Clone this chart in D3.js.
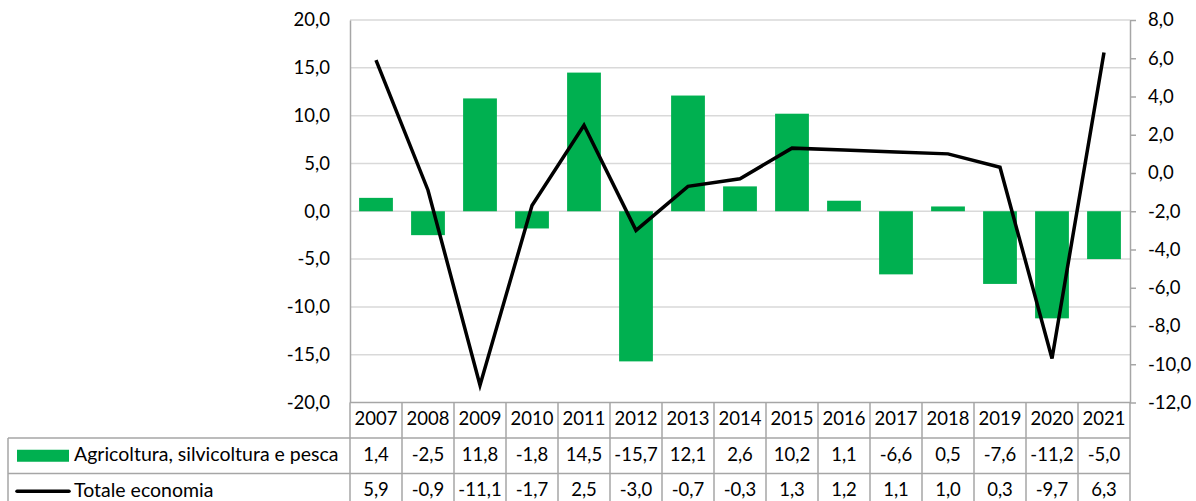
<!DOCTYPE html>
<html>
<head>
<meta charset="utf-8">
<script src="https://cdn.jsdelivr.net/npm/d3@7/dist/d3.min.js"></script>
<style>
  html, body { margin: 0; padding: 0; background: #fff; }
  svg text { font-family: Lato, "Open Sans", sans-serif; fill: #000; }
</style>
</head>
<body>
<svg id="chart" width="1196" height="501"></svg>
<script>
// Annual percentage changes
const years = ["2007","2008","2009","2010","2011","2012","2013","2014","2015","2016","2017","2018","2019","2020","2021"];
const agricoltura = [1.4, -2.5, 11.8, -1.8, 14.5, -15.7, 12.1, 2.6, 10.2, 1.1, -6.6, 0.5, -7.6, -11.2, -5.0];
const totale = [5.9, -0.9, -11.1, -1.7, 2.5, -3.0, -0.7, -0.3, 1.3, 1.2, 1.1, 1.0, 0.3, -9.7, 6.3];
const leftTicks = [-20, -15, -10, -5, 0, 5, 10, 15, 20];
const rightTicks = [-12, -10, -8, -6, -4, -2, 0, 2, 4, 6, 8];
const seriesNames = ["Agricoltura, silvicoltura e pesca", "Totale economia"];

// one decimal, comma separator, plain hyphen for negatives
const fmt = v => d3.format(".1f")(v).replace("\u2212", "-").replace(".", ",");

const svg = d3.select("#chart");
const plot = { left: 350, right: 1130, top: 20, bottom: 402.5 };
const rowH = 35.5;
const tableLeft = 8;
const gridColor = "#d9d9d9";
const borderColor = "#a6a6a6";
const green = "#00B050";
const fontSize = 18.5;
const labelSize = 19.5;
const lineWidth = 3.5;
const textShift = 5;

const x = d3.scaleBand().domain(years).range([plot.left, plot.right]).paddingInner(0.35).paddingOuter(0.175);
const xCell = d3.scaleBand().domain(years).range([plot.left, plot.right]);
const yL = d3.scaleLinear().domain([-20, 20]).range([plot.bottom, plot.top]);
const yR = d3.scaleLinear().domain([-12, 8]).range([plot.bottom, plot.top]);

// gridlines
svg.append("g").selectAll("line").data(leftTicks.filter(t => t > -20)).join("line")
  .attr("x1", plot.left).attr("x2", plot.right)
  .attr("y1", d => yL(d)).attr("y2", d => yL(d))
  .attr("stroke", gridColor).attr("stroke-width", 1.5);

// bars
svg.append("g").selectAll("rect").data(years).join("rect")
  .attr("x", d => x(d))
  .attr("width", x.bandwidth())
  .attr("y", (d, i) => yL(Math.max(0, agricoltura[i])))
  .attr("height", (d, i) => Math.abs(yL(agricoltura[i]) - yL(0)))
  .attr("fill", green);

// line
const line = d3.line()
  .x((d, i) => xCell(years[i]) + xCell.bandwidth() / 2)
  .y(d => yR(d));
svg.append("path").datum(totale)
  .attr("d", line)
  .attr("fill", "none").attr("stroke", "#000").attr("stroke-width", lineWidth)
  .attr("stroke-linejoin", "miter");

// left axis
const axL = svg.append("g").attr("transform", `translate(${plot.left},0)`)
  .call(d3.axisLeft(yL).tickValues(leftTicks).tickSize(0).tickPadding(20).tickFormat(fmt));
axL.select(".domain").attr("stroke", borderColor).attr("stroke-width", 1.5);
axL.selectAll("text").style("font-size", fontSize + "px").style("font-family", "Lato, sans-serif");

// right axis
const axR = svg.append("g").attr("transform", `translate(${plot.right},0)`)
  .call(d3.axisRight(yR).tickValues(rightTicks).tickSize(6).tickSizeOuter(0).tickPadding(12).tickFormat(fmt));
axR.select(".domain").attr("stroke", borderColor).attr("stroke-width", 1.5);
axR.selectAll(".tick line").attr("stroke", borderColor).attr("stroke-width", 1.5);
axR.selectAll("text").style("font-size", fontSize + "px").style("font-family", "Lato, sans-serif");

// data table
const table = svg.append("g");
const rows = [agricoltura, totale];
const tb = plot.bottom;
// horizontal borders
table.append("line").attr("x1", plot.left).attr("x2", plot.right).attr("y1", tb).attr("y2", tb)
  .attr("stroke", borderColor).attr("stroke-width", 1.5);
[1, 2, 3].forEach(k => {
  table.append("line").attr("x1", tableLeft).attr("x2", plot.right)
    .attr("y1", tb + rowH * k).attr("y2", tb + rowH * k)
    .attr("stroke", borderColor).attr("stroke-width", 1.5);
});
// vertical borders
years.concat(["end"]).forEach((yr, i) => {
  const xx = plot.left + xCell.bandwidth() * i;
  table.append("line").attr("x1", xx).attr("x2", xx).attr("y1", tb).attr("y2", tb + rowH * 3)
    .attr("stroke", borderColor).attr("stroke-width", 1.5);
});
table.append("line").attr("x1", tableLeft).attr("x2", tableLeft).attr("y1", tb + rowH).attr("y2", tb + rowH * 3)
  .attr("stroke", borderColor).attr("stroke-width", 1.5);

// header: years
table.selectAll("text.year").data(years).join("text")
  .attr("class", "year")
  .attr("x", d => xCell(d) + xCell.bandwidth() / 2)
  .attr("y", tb + rowH / 2 + textShift)
  .attr("text-anchor", "middle")
  .style("font-size", fontSize + "px")
  .text(d => d);

// values
rows.forEach((vals, r) => {
  table.append("g").selectAll("text").data(vals).join("text")
    .attr("x", (d, i) => xCell(years[i]) + xCell.bandwidth() / 2)
    .attr("y", tb + rowH * (r + 1) + rowH / 2 + textShift)
    .attr("text-anchor", "middle")
    .style("font-size", fontSize + "px")
    .text(d => fmt(d));
});

// legend keys inside the table
const l1y = tb + rowH * 1.5;
table.append("rect").attr("x", 17).attr("y", l1y - 6).attr("width", 52).attr("height", 12).attr("fill", green);
table.append("text").attr("x", 74).attr("y", l1y + textShift + 0.5).style("font-size", labelSize + "px").text(seriesNames[0]);
const l2y = tb + rowH * 2.5;
table.append("line").attr("x1", 17).attr("x2", 69).attr("y1", l2y).attr("y2", l2y)
  .attr("stroke", "#000").attr("stroke-width", lineWidth).attr("stroke-linecap", "round");
table.append("text").attr("x", 74).attr("y", l2y + textShift + 0.5).style("font-size", labelSize + "px").text(seriesNames[1]);
</script>
</body>
</html>
